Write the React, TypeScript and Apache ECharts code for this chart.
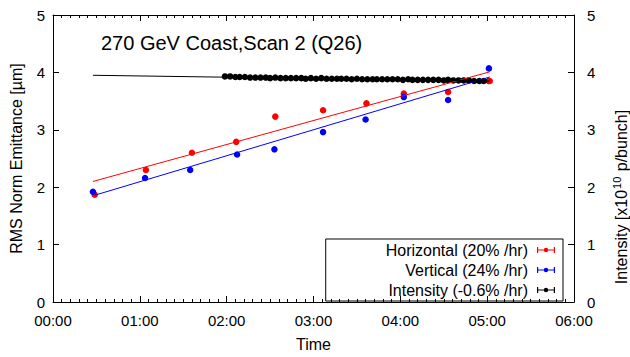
import React, { useEffect, useRef } from "react";
import * as echarts from "echarts";

const FONT = "Liberation Sans, Arial, Helvetica, sans-serif";

const xTickLabels = ["00:00", "01:00", "02:00", "03:00", "04:00", "05:00", "06:00"];

// Horizontal emittance (hours, µm)
const hTimes = [0.48, 1.07, 1.6, 2.11, 2.56, 3.11, 3.61, 4.04, 4.55, 5.03];
const hVals = [1.87, 2.3, 2.6, 2.79, 3.23, 3.34, 3.46, 3.63, 3.66, 3.85];
// Vertical emittance
const vTimes = [0.46, 1.06, 1.58, 2.12, 2.55, 3.11, 3.6, 4.04, 4.55, 5.02];
const vVals = [1.92, 2.16, 2.3, 2.57, 2.66, 2.96, 3.18, 3.57, 3.52, 4.07];
// Intensity (x1e10 p/bunch)
const iTimes = [
  1.98, 2.04, 2.1, 2.15, 2.21, 2.27, 2.33, 2.39, 2.45, 2.5,
  2.56, 2.62, 2.68, 2.74, 2.8, 2.86, 2.91, 2.97, 3.03, 3.09,
  3.15, 3.21, 3.27, 3.32, 3.38, 3.44, 3.5, 3.56, 3.62, 3.68,
  3.73, 3.79, 3.85, 3.91, 3.97, 4.03, 4.09, 4.14, 4.2, 4.26,
  4.32, 4.38, 4.44, 4.5, 4.55, 4.61, 4.67, 4.73, 4.79, 4.85,
  4.91, 4.96, 5.02,
];
const iVals = [
  3.93, 3.93, 3.92, 3.92, 3.92, 3.91, 3.91, 3.91, 3.91, 3.9,
  3.91, 3.9, 3.9, 3.9, 3.9, 3.9, 3.89, 3.9, 3.89, 3.9,
  3.89, 3.89, 3.89, 3.89, 3.89, 3.88, 3.89, 3.88, 3.88, 3.88,
  3.88, 3.88, 3.88, 3.88, 3.88, 3.87, 3.88, 3.87, 3.87, 3.87,
  3.87, 3.87, 3.87, 3.86, 3.87, 3.86, 3.86, 3.86, 3.86, 3.85,
  3.85, 3.85, 3.85,
];
// Fit line end points [time, value]
const hFit = [[0.46, 2.1], [5.03, 4.01]];
const vFit = [[0.48, 1.86], [5.03, 3.92]];
const iFit = [[0.46, 3.95], [5.03, 3.85]];

const seriesNames = ["Horizontal (20% /hr)", "Vertical (24% /hr)", "Intensity (-0.6% /hr)"];

const zip = (a: number[], b: number[]) => a.map((t, i) => [t, b[i]]);

const ICON =
  "path://M0,2.4h18v1.2h-18z M0,0h1.2v6h-1.2z M16.8,0h1.2v6h-1.2z M6.8,3a2.2,2.2 0 1 1 4.4,0a2.2,2.2 0 1 1 -4.4,0z";

export default function App() {
  const ref = useRef<HTMLDivElement>(null);
  useEffect(() => {
    if (!ref.current) return;
    const chart = echarts.init(ref.current, undefined, { renderer: "svg" });
    const axisCommon = {
      axisLine: { show: true, onZero: false, lineStyle: { color: "#000", width: 1 } },
      axisTick: { show: true, inside: true, length: 6, lineStyle: { color: "#000" } },
      splitLine: { show: false },
    };
    const xCommon = {
      type: "value",
      min: 0,
      max: 6,
      interval: 1,
      ...axisCommon,
      minorTick: { show: true, splitNumber: 10, length: 3, lineStyle: { color: "#000" } },
    };
    const yCommon = { type: "value", min: 0, max: 5, interval: 1, ...axisCommon };
    chart.setOption({
      animation: false,
      textStyle: { fontFamily: FONT },
      title: {
        text: "270 GeV Coast,Scan 2 (Q26)",
        left: 101,
        top: 33,
        padding: 0,
        textStyle: { fontSize: 20, fontWeight: "normal", color: "#000", fontFamily: FONT },
      },
      grid: { left: 53, right: 56, top: 15, bottom: 49 },
      legend: {
        data: seriesNames,
        orient: "vertical",
        align: "right",
        right: 67,
        top: 239,
        padding: [3, 8, 3, 60],
        borderColor: "#000",
        borderWidth: 1,
        itemWidth: 18,
        itemHeight: 6,
        itemGap: 4,
        icon: ICON,
        selectedMode: false,
        textStyle: { fontSize: 16, color: "#000", fontFamily: FONT, padding: [0, 4, 0, 0] },
      },
      xAxis: [
        {
          ...xCommon,
          position: "bottom",
          axisLabel: {
            color: "#000",
            fontSize: 15,
            margin: 11,
            fontFamily: FONT,
            formatter: (v: number) => xTickLabels[Math.round(v)] ?? "",
          },
          name: "Time",
          nameLocation: "middle",
          nameGap: 34,
          nameTextStyle: { fontSize: 16, color: "#000", fontFamily: FONT },
        },
        { ...xCommon, position: "top", axisLabel: { show: false } },
      ],
      yAxis: [
        {
          ...yCommon,
          position: "left",
          axisLabel: { color: "#000", fontSize: 15, margin: 8, fontFamily: FONT },
          name: "RMS Norm Emittance [µm]",
          nameLocation: "middle",
          nameRotate: 90,
          nameGap: 29,
          nameTextStyle: { fontSize: 16, color: "#000", fontFamily: FONT },
        },
        {
          ...yCommon,
          position: "right",
          axisLabel: { color: "#000", fontSize: 15, margin: 13, fontFamily: FONT },
        },
      ],
      graphic: [
        {
          type: "text",
          x: 621,
          y: 197,
          rotation: Math.PI / 2,
          style: {
            text: "Intensity [x10{sup|10} p/bunch]",
            fill: "#000",
            fontSize: 16,
            fontFamily: FONT,
            align: "center",
            verticalAlign: "middle",
            rich: {
              sup: { fontSize: 11, fontFamily: FONT, fill: "#000", padding: [0, 1, 8, 1] },
            },
          },
        },
      ],
      series: [
        {
          name: "hfit",
          type: "line",
          data: hFit,
          symbol: "none",
          silent: true,
          lineStyle: { color: "#ff0000", width: 1 },
        },
        {
          name: "vfit",
          type: "line",
          data: vFit,
          symbol: "none",
          silent: true,
          lineStyle: { color: "#0000ff", width: 1 },
        },
        {
          name: "ifit",
          type: "line",
          yAxisIndex: 1,
          data: iFit,
          symbol: "none",
          silent: true,
          lineStyle: { color: "#000000", width: 1 },
        },
        {
          name: seriesNames[2],
          type: "scatter",
          yAxisIndex: 1,
          data: zip(iTimes, iVals),
          symbolSize: 6.5,
          itemStyle: { color: "#000000", opacity: 1 },
        },
        {
          name: seriesNames[0],
          type: "scatter",
          data: zip(hTimes, hVals),
          symbolSize: 6.5,
          itemStyle: { color: "#ff0000", opacity: 1 },
        },
        {
          name: seriesNames[1],
          type: "scatter",
          data: zip(vTimes, vVals),
          symbolSize: 6.5,
          itemStyle: { color: "#0000ff", opacity: 1 },
        },
      ],
    });
    return () => chart.dispose();
  }, []);
  return (
    <div
      ref={ref}
      style={{ position: "absolute", left: 0, top: 0, width: 630, height: 357 }}
    />
  );
}
